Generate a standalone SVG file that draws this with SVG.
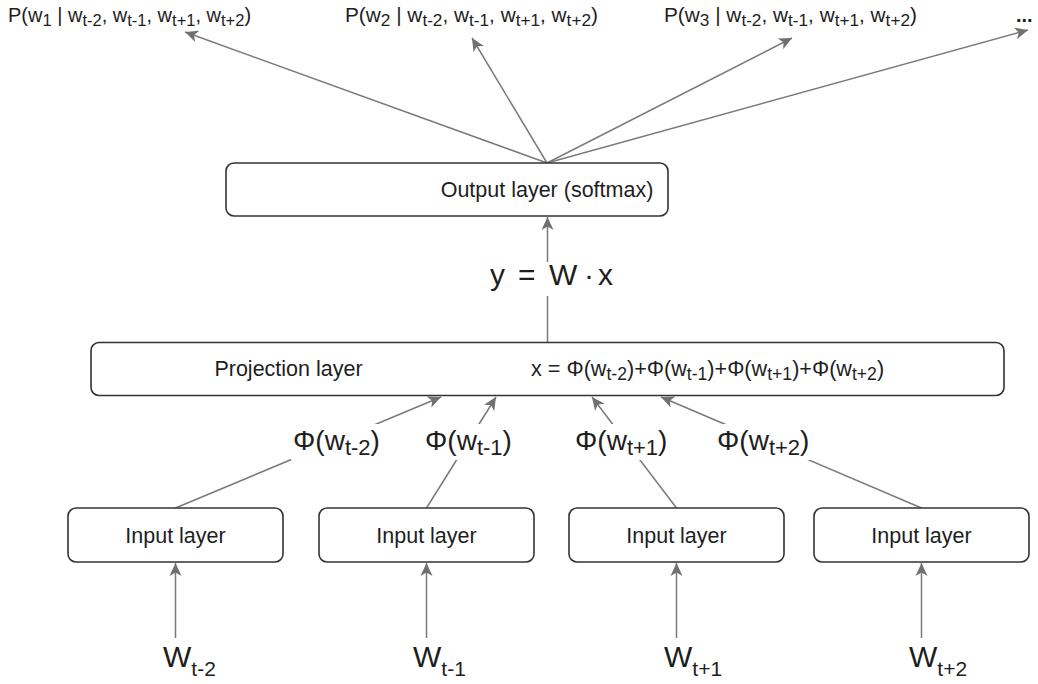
<svg xmlns="http://www.w3.org/2000/svg" width="1038" height="684" viewBox="0 0 1038 684">
  <style>
    .box { fill: #ffffff; stroke: #333333; stroke-width: 1.6; }
    .edge { fill: none; stroke: #7a7a7a; stroke-width: 1.5; }
    .arrow { marker-end: url(#head); }
    .lbl { font-family: "Liberation Sans", Arial, sans-serif; fill: #1e1e1e; }
    .bg { fill: #ffffff; }
  </style>
  <defs>
    <marker id="head" markerUnits="userSpaceOnUse" viewBox="0 -7 14 14" refX="13" refY="0" markerWidth="14" markerHeight="14" orient="auto">
      <path d="M0,-6 L13,0 L0,6 L3.5,0 Z" fill="#707070"/>
    </marker>
  </defs>

  <!-- connectors -->
  <g id="connectors">
    <!-- softmax outputs -->
    <line class="edge arrow" x1="547" y1="163" x2="185" y2="32"/>
    <line class="edge arrow" x1="547" y1="163" x2="472" y2="38"/>
    <line class="edge arrow" x1="547" y1="163" x2="792" y2="38"/>
    <line class="edge arrow" x1="547" y1="163" x2="1028" y2="30"/>
    <!-- projection to output -->
    <line class="edge arrow" x1="547.5" y1="342" x2="547.5" y2="217"/>
    <!-- input layers to projection -->
    <line class="edge arrow" x1="175.5" y1="508" x2="441" y2="397"/>
    <line class="edge arrow" x1="426.5" y1="508" x2="496" y2="397"/>
    <line class="edge arrow" x1="676.5" y1="508" x2="592" y2="397"/>
    <line class="edge arrow" x1="921.5" y1="508" x2="661" y2="397"/>
    <!-- words to input layers -->
    <line class="edge arrow" x1="175.5" y1="638" x2="175.5" y2="563"/>
    <line class="edge arrow" x1="426.5" y1="638" x2="426.5" y2="563"/>
    <line class="edge arrow" x1="676.5" y1="638" x2="676.5" y2="563"/>
    <line class="edge arrow" x1="921.5" y1="638" x2="921.5" y2="563"/>

    <!-- edge labels -->
    <g id="label-wx">
      <rect class="bg" x="486" y="262" width="132" height="34"/>
      <text class="lbl" y="285" font-size="30"><tspan x="490">y</tspan><tspan x="518">=</tspan><tspan x="549">W</tspan><tspan x="584">·</tspan><tspan x="598">x</tspan></text>
    </g>
    <g id="label-phi1">
      <rect class="bg" x="291" y="424" width="94" height="36"/>
      <text class="lbl" x="293" y="450" font-size="28">Φ(w<tspan font-size="22" dy="5">t-2</tspan><tspan dy="-5">)</tspan></text>
    </g>
    <g id="label-phi2">
      <rect class="bg" x="423" y="424" width="92" height="36"/>
      <text class="lbl" x="425" y="450" font-size="28">Φ(w<tspan font-size="22" dy="5">t-1</tspan><tspan dy="-5">)</tspan></text>
    </g>
    <g id="label-phi3">
      <rect class="bg" x="573" y="424" width="98" height="36"/>
      <text class="lbl" x="575" y="450" font-size="28">Φ(w<tspan font-size="22" dy="5">t+1</tspan><tspan dy="-5">)</tspan></text>
    </g>
    <g id="label-phi4">
      <rect class="bg" x="715" y="424" width="98" height="36"/>
      <text class="lbl" x="717" y="450" font-size="28">Φ(w<tspan font-size="22" dy="5">t+2</tspan><tspan dy="-5">)</tspan></text>
    </g>
  </g>

  <!-- probability labels -->
  <g id="prob1">
    <text class="lbl" x="8" y="22" font-size="20">P(w<tspan font-size="16.5" dy="4">1</tspan><tspan dy="-4"> | w</tspan><tspan font-size="16.5" dy="4">t-2</tspan><tspan dy="-4">, w</tspan><tspan font-size="16.5" dy="4">t-1</tspan><tspan dy="-4">, w</tspan><tspan font-size="16.5" dy="4">t+1</tspan><tspan dy="-4">, w</tspan><tspan font-size="16.5" dy="4">t+2</tspan><tspan dy="-4">)</tspan></text>
  </g>
  <g id="prob2">
    <text class="lbl" x="345" y="22" font-size="20.8">P(w<tspan font-size="17.2" dy="4">2</tspan><tspan dy="-4"> | w</tspan><tspan font-size="17.2" dy="4">t-2</tspan><tspan dy="-4">, w</tspan><tspan font-size="17.2" dy="4">t-1</tspan><tspan dy="-4">, w</tspan><tspan font-size="17.2" dy="4">t+1</tspan><tspan dy="-4">, w</tspan><tspan font-size="17.2" dy="4">t+2</tspan><tspan dy="-4">)</tspan></text>
  </g>
  <g id="prob3">
    <text class="lbl" x="664" y="22" font-size="20.8">P(w<tspan font-size="17.2" dy="4">3</tspan><tspan dy="-4"> | w</tspan><tspan font-size="17.2" dy="4">t-2</tspan><tspan dy="-4">, w</tspan><tspan font-size="17.2" dy="4">t-1</tspan><tspan dy="-4">, w</tspan><tspan font-size="17.2" dy="4">t+1</tspan><tspan dy="-4">, w</tspan><tspan font-size="17.2" dy="4">t+2</tspan><tspan dy="-4">)</tspan></text>
  </g>
  <g id="ellipsis">
    <text class="lbl" x="1016" y="22" font-size="20" font-weight="bold">...</text>
  </g>

  <!-- output layer -->
  <g id="output-layer">
    <rect class="box" x="226" y="163" width="442" height="53" rx="8"/>
    <text class="lbl" x="547" y="197" font-size="21.5" text-anchor="middle">Output layer (softmax)</text>
  </g>

  <!-- projection layer -->
  <g id="projection-layer">
    <rect class="box" x="91" y="342.5" width="913" height="53" rx="8"/>
    <text class="lbl" x="288.5" y="376" font-size="21.5" text-anchor="middle">Projection layer</text>
    <text class="lbl" x="531" y="376" font-size="21.6">x = Φ(w<tspan font-size="17.6" dy="4">t-2</tspan><tspan dy="-4">)+Φ(w</tspan><tspan font-size="17.6" dy="4">t-1</tspan><tspan dy="-4">)+Φ(w</tspan><tspan font-size="17.6" dy="4">t+1</tspan><tspan dy="-4">)+Φ(w</tspan><tspan font-size="17.6" dy="4">t+2</tspan><tspan dy="-4">)</tspan></text>
  </g>

  <!-- input layers -->
  <g id="input-1">
    <rect class="box" x="68" y="508" width="215" height="54" rx="8"/>
    <text class="lbl" x="175.5" y="542.5" font-size="21.5" text-anchor="middle">Input layer</text>
  </g>
  <g id="input-2">
    <rect class="box" x="319" y="508" width="215" height="54" rx="8"/>
    <text class="lbl" x="426.5" y="542.5" font-size="21.5" text-anchor="middle">Input layer</text>
  </g>
  <g id="input-3">
    <rect class="box" x="569" y="508" width="215" height="54" rx="8"/>
    <text class="lbl" x="676.5" y="542.5" font-size="21.5" text-anchor="middle">Input layer</text>
  </g>
  <g id="input-4">
    <rect class="box" x="814" y="508" width="215" height="54" rx="8"/>
    <text class="lbl" x="921.5" y="542.5" font-size="21.5" text-anchor="middle">Input layer</text>
  </g>

  <!-- context words -->
  <g id="word-1">
    <text class="lbl" x="163" y="667" font-size="30">W<tspan font-size="21" dy="9">t-2</tspan></text>
  </g>
  <g id="word-2">
    <text class="lbl" x="413" y="667" font-size="30">W<tspan font-size="21" dy="9">t-1</tspan></text>
  </g>
  <g id="word-3">
    <text class="lbl" x="664" y="667" font-size="30">W<tspan font-size="21" dy="9">t+1</tspan></text>
  </g>
  <g id="word-4">
    <text class="lbl" x="909" y="667" font-size="30">W<tspan font-size="21" dy="9">t+2</tspan></text>
  </g>
</svg>
